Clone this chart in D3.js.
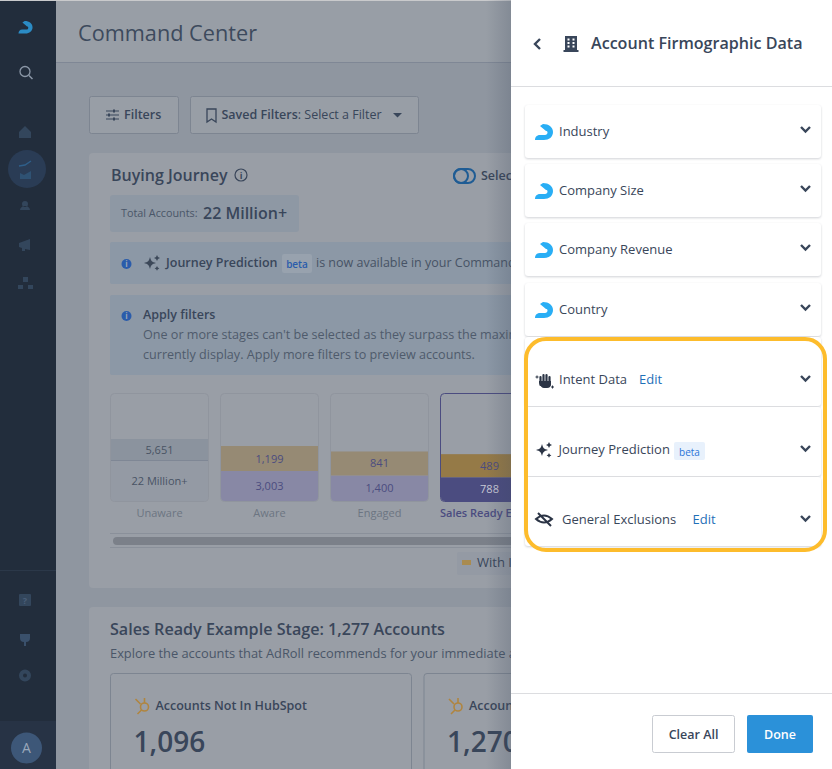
<!DOCTYPE html>
<html>
<head>
<meta charset="utf-8">
<title>Command Center</title>
<script src="https://cdn.jsdelivr.net/npm/d3@7"></script>
<style>
  html, body { margin: 0; padding: 0; background: #8f96a0; overflow: hidden; }
  svg { display: block; font-family: "Open Sans", sans-serif; }
</style>
</head>
<body>
<div id="chart"></div>
<script>
// values
const stages = ["Unaware", "Aware", "Engaged", "Sales Ready Example"]
const withIntent = [5651, 1199, 841, 489]
const withoutIntent = [22000000, 3003, 1400, 788]
const withLabels = ["5,651", "1,199", "841", "489"]
const withoutLabels = ["22 Million+", "3,003", "1,400", "788"]
const panelRows = ["Industry", "Company Size", "Company Revenue", "Country"]
const editRows = ["Intent Data", "Journey Prediction", "General Exclusions"]
const accountTitles = ["Accounts Not In HubSpot", "Accounts In HubSpot"]
const accountValues = ["1,096", "1,270"]

const W = 832, H = 769
const DARK = "#39465a"
const HOOK = "M5 2L8 0C14 0 18 3.500 18 8C18 13 14 16 9 16H0C0 13.500 1.500 11 5 11H10C11.500 11 12.500 10 12.500 8.500C12.500 7.500 12 7 11 7Z"

const svg = d3.select("#chart").append("svg")
  .attr("width", W)
  .attr("height", H)

const defs = svg.append("defs")
const grad = defs.append("linearGradient").attr("id", "drawerShade")
grad.append("stop").attr("offset", "0").attr("stop-color", "#39465a").attr("stop-opacity", 0)
grad.append("stop").attr("offset", "1").attr("stop-color", "#39465a").attr("stop-opacity", 0.22)

function label(g, x, y, str, size, color, weight, anchor) {
  return g.append("text")
    .attr("x", x).attr("y", y)
    .attr("font-size", size)
    .attr("fill", color)
    .attr("font-weight", weight || 400)
    .attr("text-anchor", anchor || "start")
    .text(str)
}

function box(g, x, y, w, h, fill, stroke, r) {
  return g.append("rect")
    .attr("x", x).attr("y", y)
    .attr("width", w).attr("height", h)
    .attr("rx", r || 0)
    .attr("fill", fill)
    .attr("stroke", stroke || "none")
}

/* ---- page behind the drawer ---- */
const page = svg.append("g")
box(page, 0, 0, W, H, "#8f96a0")
box(page, 56, 0, W, 62, "#989ea6")
page.append("line").attr("x1", 56).attr("x2", W).attr("y1", 62.5).attr("y2", 62.5).attr("stroke", "#7f8795")
box(page, 0, 0, W, 1, "#c9cacc")
label(page, 78, 41, "Command Center", 21.7, "#3d4a5d")

// filters row
box(page, 89.5, 96.5, 89, 37, "#989ea6", "#7d8591", 2)
page.append("path").attr("d", "M106 111h13M106 115h13M106 119h13").attr("stroke", DARK).attr("stroke-width", 1.2)
page.append("path").attr("d", "M114 109.500v3M109 113.500v3M114 117.500v3").attr("stroke", DARK).attr("stroke-width", 2)
label(page, 124, 119, "Filters", 12.5, DARK, 600)
box(page, 190.5, 96.5, 228, 37, "#989ea6", "#7d8591", 2)
page.append("path").attr("d", "M207 109h9v13l-4.500-3-4.500 3z").attr("fill", "none").attr("stroke", DARK).attr("stroke-width", 1.3)
const saved = label(page, 221.5, 119, "Saved Filters", 12.5, DARK, 600)
saved.append("tspan").attr("font-weight", 400).text(": Select a Filter")
page.append("path").attr("d", "M393 113h9l-4.500 4.500z").attr("fill", DARK)

// buying journey card
box(page, 89, 153, 500, 435, "#999ea6", null, 4)
label(page, 111, 181, "Buying Journey", 16, DARK, 600)
page.append("circle").attr("cx", 241).attr("cy", 175).attr("r", 6).attr("fill", "none").attr("stroke", DARK).attr("stroke-width", 1.2)
label(page, 241, 178.5, "i", 9, DARK, 700, "middle")
box(page, 454, 169, 21, 14, "none", "#1f5c94", 7).attr("stroke-width", 2)
page.append("circle").attr("cx", 461).attr("cy", 176).attr("r", 7).attr("fill", "none").attr("stroke", "#1f5c94").attr("stroke-width", 2)
label(page, 481, 180, "Select", 12.5, DARK, 600)

box(page, 110, 195, 189, 37, "#8e98a4", null, 3)
label(page, 121, 217, "Total Accounts:", 10.8, "#4a5668")
label(page, 203, 219, "22 Million+", 16, DARK, 600)

// notices
box(page, 110, 242, 480, 42, "#8c98a6", null, 2)
box(page, 110, 295, 480, 80, "#8c98a6", null, 2)
function infoDot(x, y) {
  page.append("circle").attr("cx", x).attr("cy", y).attr("r", 5).attr("fill", "#2a5cab")
  label(page, x, y + 3, "i", 8, "#9aa6b5", 700, "middle")
}
infoDot(126.5, 264)
infoDot(126.5, 316)
const spark = "M6 0C7 4 8 5 12 6C8 7 7 8 6 12C5 8 4 7 0 6C4 5 5 4 6 0ZM13 -2l1 2 2 1-2 1-1 2-1-2-2-1 2-1zM13 9l.8 1.600 1.600.8-1.600.8-.8 1.600-.8-1.600-1.600-.8 1.600-.8z"
page.append("path").attr("d", spark).attr("transform", "translate(144,257)").attr("fill", "#3c4859")
label(page, 166, 267, "Journey Prediction", 12.5, DARK, 600)
box(page, 282, 254, 30, 19, "#98a2ae", null, 2)
label(page, 297, 268, "beta", 10, "#2a5cab", 600, "middle")
label(page, 316, 267, "is now available in your Command Center", 12.5, "#475365")
label(page, 143, 319, "Apply filters", 12.5, DARK, 600)
label(page, 143, 339, "One or more stages can't be selected as they surpass the maximum", 12.6, "#4f5b6c")
label(page, 143, 359, "currently display. Apply more filters to preview accounts.", 12.6, "#4f5b6c")

/* ---- stage bars ---- */
const x = d3.scaleBand().domain(stages).range([110, 539]).paddingInner(0.1)
const base = 501
const heightKnown = d3.scaleLinear().domain([489, 3003]).range([23, 30])
const heightUnaware = d3.scaleLog().domain([5651, 22000000]).range([21, 41])
const barHeight = (v, i) => (i === 0 ? heightUnaware(v) : heightKnown(v))

const stageData = stages.map((s, i) => ({
  stage: s, i: i,
  top: withIntent[i], bottom: withoutIntent[i],
  topLabel: withLabels[i], bottomLabel: withoutLabels[i]
}))

const topFill = ["#8b939e", "#968a74", "#968a74", "#957a47"]
const bottomFill = ["#949aa4", "#8888a5", "#8888a5", "#4b4c80"]
const topText = ["#495464", "#4b4c80", "#4b4c80", "#4b4c80"]
const bottomText = ["#495464", "#4b4c80", "#4b4c80", "#c9cad6"]

const stage = page.selectAll("g.stage").data(stageData).enter().append("g").attr("class", "stage")

stage.append("rect")
  .attr("x", d => x(d.stage) + 0.5)
  .attr("y", 393.5)
  .attr("width", x.bandwidth() - 1)
  .attr("height", base - 393)
  .attr("rx", 4)
  .attr("fill", "#999ea6")
  .attr("stroke", d => (d.i === 3 ? "#4b4c80" : "#90959e"))

stage.append("path")
  .attr("d", d => {
    const x0 = x(d.stage) + 1, w = x.bandwidth() - 2, h = barHeight(d.bottom, d.i)
    return "M" + x0 + " " + (base - h) + "h" + w + "v" + (h - 4) + "q0 4 -4 4h" + (8 - w) + "q-4 0 -4 -4z"
  })
  .attr("fill", d => bottomFill[d.i])

stage.append("rect")
  .attr("x", d => x(d.stage) + 1)
  .attr("y", d => base - barHeight(d.bottom, d.i) - barHeight(d.top, d.i))
  .attr("width", x.bandwidth() - 2)
  .attr("height", d => barHeight(d.top, d.i))
  .attr("fill", d => topFill[d.i])

stage.filter(d => d.i === 0).append("line")
  .attr("x1", d => x(d.stage) + 1)
  .attr("x2", d => x(d.stage) + x.bandwidth() - 1)
  .attr("y1", d => base - barHeight(d.bottom, d.i) + 0.5)
  .attr("y2", d => base - barHeight(d.bottom, d.i) + 0.5)
  .attr("stroke", "#7f8795")

stage.append("text")
  .attr("x", d => x(d.stage) + x.bandwidth() / 2)
  .attr("y", d => base - barHeight(d.bottom, d.i) - barHeight(d.top, d.i) / 2 + 4)
  .attr("text-anchor", "middle")
  .attr("font-size", 11)
  .attr("font-weight", 500)
  .attr("fill", d => topText[d.i])
  .text(d => d.topLabel)

stage.append("text")
  .attr("x", d => x(d.stage) + x.bandwidth() / 2)
  .attr("y", d => base - barHeight(d.bottom, d.i) / 2 + 4)
  .attr("text-anchor", "middle")
  .attr("font-size", 11)
  .attr("font-weight", 500)
  .attr("fill", d => bottomText[d.i])
  .text(d => d.bottomLabel)

stage.append("text")
  .attr("x", d => (d.i === 3 ? x(d.stage) : x(d.stage) + x.bandwidth() / 2))
  .attr("y", 517)
  .attr("text-anchor", d => (d.i === 3 ? "start" : "middle"))
  .attr("font-size", 11)
  .attr("font-weight", d => (d.i === 3 ? 600 : 400))
  .attr("fill", d => (d.i === 3 ? "#4b4c80" : "#6c7582"))
  .text(d => d.stage)

// scrollbar + legend
page.append("path").attr("d", "M110 533.500H590M110 547.500H590").attr("stroke", "#8a909a")
box(page, 113, 537, 470, 8, "#7b8089", null, 4)
box(page, 457, 552, 130, 23, "#949aa4", null, 2)
box(page, 462, 560, 9, 5, "#a98b50")
label(page, 477, 567, "With Intent", 13, DARK, 500)

// sales ready card
box(page, 89, 607, 500, 170, "#999ea6", null, 4)
label(page, 110, 635, "Sales Ready Example Stage: 1,277 Accounts", 16.15, DARK, 600)
label(page, 110, 658, "Explore the accounts that AdRoll recommends for your immediate attention", 12.85, "#4a5668")

accountValues.forEach((v, i) => {
  const left = 110.5 + i * 313.5
  box(page, left, 673.5, 301, 120, "#999ea6", "#7d8591", 3)
  const hub = page.append("g").attr("transform", "translate(" + (left + 24) + ",697)")
    .attr("fill", "none").attr("stroke", "#b0853f").attr("stroke-width", 1.6)
  hub.append("circle").attr("cx", 10).attr("cy", 10).attr("r", 4)
  hub.append("path").attr("d", "M6 7L1 2M10 6V1M7 13L3 17")
  label(page, left + 45, 710, accountTitles[i], 12.5, DARK, 600)
  label(page, left + 23, 752, v, 28, DARK, 550)
})

/* ---- sidebar ---- */
const side = svg.append("g")
box(side, 0, 1, 56, H, "#222d3c")
box(side, 0, 721, 56, 48, "#273345")
side.append("line").attr("x1", 0).attr("x2", 56).attr("y1", 570.5).attr("y2", 570.5).attr("stroke", "#2b3849")
side.append("path").attr("d", HOOK).attr("transform", "translate(18.500,21) scale(.78)").attr("fill", "#2b8bc4")
side.append("circle").attr("cx", 25).attr("cy", 71.5).attr("r", 5).attr("fill", "none").attr("stroke", "#8b97a7").attr("stroke-width", 1.3)
side.append("path").attr("d", "M29 75.500l3.500 3.500").attr("stroke", "#8b97a7").attr("stroke-width", 1.5)
side.append("path").attr("d", "M19 132l6-6 6 6v6h-12z").attr("fill", "#33465c")
side.append("circle").attr("cx", 27).attr("cy", 169).attr("r", 19).attr("fill", "#2a3c55")
side.append("path").attr("d", "M20 173l4 2 7-4v8h-11z").attr("fill", "#2f5273")
side.append("path").attr("d", "M19 166l6-1 6-4").attr("fill", "none").attr("stroke", "#2f5f8a").attr("stroke-width", 1.4)
side.append("path").attr("d", "M20 210a5 4 0 0 1 10 0zM22 204a3 3 0 1 0 6 0a3 3 0 1 0 -6 0").attr("fill", "#33465c")
side.append("path").attr("d", "M19 243l11-4v11l-5-1v2h-3v-3l-3-1z").attr("fill", "#33465c")
side.append("path").attr("d", "M23 277h5v5h-5zM18 285h5v4h-5zM28 285h5v4h-5z").attr("fill", "#33465c")
box(side, 19, 594, 12, 12, "#33465c", null, 1)
label(side, 25, 604, "?", 9, "#4a5e78", 700, "middle")
side.append("path").attr("d", "M20 634h10v4q0 4-4 4v4h-2v-4q-4 0-4-4z").attr("fill", "#3a506b")
side.append("circle").attr("cx", 25).attr("cy", 675.5).attr("r", 4).attr("fill", "none").attr("stroke", "#33465c").attr("stroke-width", 4)
side.append("circle").attr("cx", 26.5).attr("cy", 748).attr("r", 15.500).attr("fill", "#3d5778")
label(side, 26.5, 753, "A", 14, "#9aa8ba", 400, "middle")

// shadow falling from the drawer
box(svg, 486, 0, 25, H, "url(#drawerShade)")

/* ---- drawer ---- */
const panel = svg.append("g")
box(panel, 511, 0, 321, H, "#ffffff")
panel.append("line").attr("x1", 511).attr("x2", W).attr("y1", 86.5).attr("y2", 86.5).attr("stroke", "#dcdde0")
panel.append("path").attr("d", "M540 39l-5 5 5 5").attr("fill", "none").attr("stroke", DARK).attr("stroke-width", 2.4)
panel.append("path").attr("d", "M565 36h12v14h1.500v2h-15v-2h1.500z").attr("fill", DARK)
panel.selectAll("rect.win").data([0, 1, 2, 3, 4, 5]).enter().append("rect")
  .attr("class", "win").attr("width", 2).attr("height", 2).attr("fill", "#fff")
  .attr("x", d => 567.5 + (d % 2) * 5)
  .attr("y", d => 38.500 + Math.floor(d / 2) * 3.500)
label(panel, 591, 49, "Account Firmographic Data", 16.1, DARK, 600)

function chevron(y) {
  panel.append("path").attr("d", "M801 " + (y - 3) + "l4.500 4.500 4.500-4.500").attr("fill", "none")
    .attr("stroke", DARK).attr("stroke-width", 2.4)
}

const rowTop = d3.scalePoint().domain(panelRows).range([105, 283])
panelRows.forEach(name => {
  const y = Math.floor(rowTop(name))
  box(panel, 525, y, 296, 53, "#ffffff", null, 3).style("filter", "drop-shadow(0 1px 1px rgba(40,50,70,.22))")
  panel.append("path").attr("d", HOOK).attr("transform", "translate(535," + (y + 19) + ")").attr("fill", "#29aef5")
  label(panel, 559, y + 31, name, 13, DARK, 500)
  chevron(y + 25)
})

const editTop = d3.scalePoint().domain(editRows).range([337, 477])
editRows.forEach(name => {
  const y = editTop(name)
  box(panel, 525, y, 296, 69, "#ffffff", null, 3).style("filter", "drop-shadow(0 1px 1px rgba(40,50,70,.22))")
  chevron(y + 42)
})
const eyeY = editTop("General Exclusions")
const intentY = editTop("Intent Data")
const jpY = editTop("Journey Prediction")

// raised hand
panel.append("path").attr("d", "M540.500 377v8M543.500 375v8M546.500 375v8M549.500 377v8").attr("stroke", "#2b3445").attr("stroke-width", 2.2).attr("stroke-linecap", "round")
panel.append("path").attr("d", "M539 381h12v3q0 4-4 4h-3q-3 0-5-5z").attr("fill", "#2b3445")
panel.append("path").attr("d", "M535.500 377h3M537 375.500v3M551 387h3M552.500 385.500v3").attr("stroke", "#2b3445")
label(panel, 559, intentY + 47, "Intent Data", 13, DARK, 500)
label(panel, 639, intentY + 47, "Edit", 13, "#1f70b8", 500)

panel.append("path").attr("d", spark).attr("transform", "translate(536,444)").attr("fill", "#2b3445")
label(panel, 558.5, jpY + 47, "Journey Prediction", 13, DARK, 500)
box(panel, 674, 442, 31, 18, "#e8f1fc", null, 2)
label(panel, 689.5, 456, "beta", 10, "#2a74d8", 500, "middle")

panel.append("path").attr("d", "M536 519q8-7 16 0q-8 7-16 0zM538 513l13 13").attr("fill", "none").attr("stroke", "#2b3445").attr("stroke-width", 2)
label(panel, 562, eyeY + 47, "General Exclusions", 13, DARK, 500)
label(panel, 692.5, eyeY + 47, "Edit", 13, "#1f70b8", 500)

// yellow highlight around the last three rows
box(panel, 526, 339, 299, 211, "none", "#fdbc2c", 20).attr("stroke-width", 4)

// footer
panel.append("line").attr("x1", 511).attr("x2", W).attr("y1", 693.5).attr("y2", 693.5).attr("stroke", "#dcdde0")
box(panel, 652.5, 715.5, 82, 37, "#fff", "#c9ccd2", 2)
label(panel, 693.5, 739, "Clear All", 12.5, DARK, 600, "middle")
box(panel, 747, 715, 66, 38, "#2b91d9", null, 2)
label(panel, 780, 739, "Done", 12.5, "#ffffff", 600, "middle")
</script>
</body>
</html>
